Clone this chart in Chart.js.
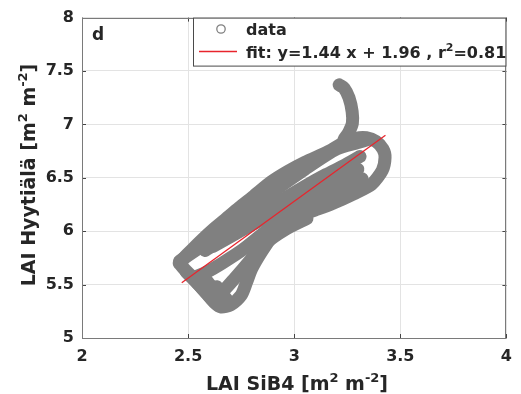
<!DOCTYPE html>
<html><head><meta charset="utf-8">
<script src="https://cdn.jsdelivr.net/npm/chart.js@4.4.1/dist/chart.umd.min.js"></script>
<style>html,body{margin:0;padding:0;background:#fff;}#wrap{width:521px;height:394px;}</style>
</head><body><div id="wrap"><canvas id="c" width="521" height="394"></canvas></div>
<script>
// ---- data ----
const xTicks = [2, 2.5, 3, 3.5, 4];
const yTicks = [5, 5.5, 6, 6.5, 7, 7.5, 8];
const xTitle = [["LAI SiB4 [m", 0], ["2", 1], [" m", 0], ["-2", 1], ["]", 0]];
const yTitle = [["LAI Hyytiälä [m", 0], ["2", 1], [" m", 0], ["-2", 1], ["]", 0]];
const panelLabel = "d";
const legendData = "data";
const legendFit = [["fit: y=1.44 x + 1.96 , r", 0], ["2", 1], ["=0.81", 0]];
const fitSlope = 1.44;
const fitIntercept = 1.96;
const fitX = [2.47, 3.43];

// trajectory strands of the data cloud (x = LAI SiB4, y = LAI Hyytiälä)
const outerLoop = [[2.458,5.70],[2.50,5.79],[2.56,5.91],[2.62,6.02],[2.68,6.12],[2.74,6.22],[2.81,6.33],[2.89,6.46],[2.97,6.56],[3.05,6.645],[3.16,6.745],[3.235,6.83],[3.29,6.87],[3.34,6.875],[3.385,6.84],[3.418,6.77],[3.428,6.69],[3.415,6.57],[3.365,6.44],[3.28,6.35],[3.18,6.26],[3.10,6.20],[3.03,6.15],[2.95,6.07],[2.90,5.96],[2.85,5.82],[2.80,5.65],[2.775,5.52],[2.75,5.40],[2.70,5.31],[2.655,5.29],[2.625,5.33],[2.59,5.41],[2.55,5.50],[2.51,5.59],[2.475,5.66],[2.458,5.70]];
const hookPath = [[3.212,7.37],[3.235,7.34],[3.258,7.25],[3.273,7.12],[3.274,7.01],[3.258,6.93],[3.235,6.86]];
const passA = [[2.46,5.72],[2.55,5.84],[2.65,5.99],[2.75,6.14],[2.90,6.37],[3.05,6.58],[3.20,6.77],[3.30,6.83],[3.35,6.86]];
const passE = [[2.58,5.82],[2.66,5.92],[2.75,6.05],[2.90,6.24],[3.05,6.42],[3.15,6.53],[3.24,6.62],[3.31,6.70]];
const passB = [[2.62,5.86],[2.70,5.95],[2.80,6.06],[2.90,6.17],[3.05,6.32],[3.20,6.47],[3.30,6.58]];
const passC = [[2.53,5.57],[2.59,5.62],[2.66,5.70],[2.76,5.83],[2.90,6.05],[3.05,6.23],[3.20,6.39],[3.32,6.49]];
const passD = [[2.62,5.37],[2.67,5.45],[2.72,5.56],[2.79,5.72],[2.86,5.88],[2.96,6.02],[3.06,6.12]];
const fillG1 = [[2.49,5.62],[2.55,5.50],[2.60,5.39],[2.64,5.31]];
const fillG2 = [[2.57,5.58],[2.61,5.48],[2.65,5.38],[2.69,5.31]];
const fillG3 = [[2.635,5.48],[2.67,5.39],[2.70,5.32]];

const dataPaths = [outerLoop, hookPath, passA, passE, passB, passC, passD, fillG1, fillG2, fillG3];

// ---- styles ----
const GRAY = '#808080';
const TXT = '#262626';
const RED = 'rgb(232,36,44)';
const FONT = "'DejaVu Sans', sans-serif";

const toXY = arr => arr.map(p => ({x: p[0], y: p[1]}));

const datasets = [{
  label: 'fit',
  data: fitX.map(x => ({x: x, y: fitSlope * x + fitIntercept})),
  showLine: true, borderColor: RED, borderWidth: 1.3,
  pointRadius: 0, order: 0, tension: 0
}];
dataPaths.forEach((p, i) => datasets.push({
  label: 'data' + i, data: toXY(p), showLine: true,
  borderColor: GRAY, borderWidth: 13, borderCapStyle: 'round', borderJoinStyle: 'round',
  tension: 0.25, pointRadius: 0, order: 1
}));

function drawRich(ctx, parts, x, y, size, supSize, align) {
  const f = s => 'bold ' + s + 'px ' + FONT;
  let total = 0;
  const w = parts.map(p => { ctx.font = f(p[1] ? supSize : size); const m = ctx.measureText(p[0]).width; total += m; return m; });
  let cx = align === 'center' ? x - total / 2 : x;
  ctx.textAlign = 'left';
  ctx.textBaseline = 'alphabetic';
  const base = y + size * 0.36;
  parts.forEach((p, i) => {
    ctx.font = f(p[1] ? supSize : size);
    ctx.fillText(p[0], cx, p[1] ? base - size * 0.42 : base);
    cx += w[i];
  });
}

const deco = {
  id: 'deco',
  afterDraw(chart) {
    const ctx = chart.ctx, a = chart.chartArea;
    const xs = chart.scales.x, ys = chart.scales.y;
    ctx.save();
    // inward tick marks
    ctx.strokeStyle = '#444'; ctx.lineWidth = 1;
    ctx.beginPath();
    xTicks.forEach(v => { const px = Math.round(xs.getPixelForValue(v)) + 0.5;
      ctx.moveTo(px, a.bottom); ctx.lineTo(px, a.bottom - 4);
      ctx.moveTo(px, a.top); ctx.lineTo(px, a.top + 4); });
    yTicks.forEach(v => { const py = Math.round(ys.getPixelForValue(v)) + 0.5;
      ctx.moveTo(a.left, py); ctx.lineTo(a.left + 4, py);
      ctx.moveTo(a.right, py); ctx.lineTo(a.right - 4, py); });
    ctx.stroke();
    // box
    ctx.strokeStyle = '#7a7a7a'; ctx.lineWidth = 1;
    ctx.strokeRect(Math.round(a.left) + 0.5, Math.round(a.top) + 0.5, Math.round(a.right - a.left) - 1, Math.round(a.bottom - a.top));
    // legend box
    const lx = 193.5, ly = a.top + 0.5, lw = a.right - 193 - 1, lh = 48;
    ctx.fillStyle = '#fff'; ctx.fillRect(lx, ly, lw, lh);
    ctx.strokeStyle = '#4a4a4a'; ctx.strokeRect(lx, ly, lw, lh);
    ctx.strokeStyle = GRAY; ctx.lineWidth = 1.3;
    ctx.beginPath(); ctx.arc(221, 29, 4.2, 0, Math.PI * 2); ctx.stroke();
    ctx.beginPath();
    ctx.strokeStyle = RED; ctx.lineWidth = 1.6;
    ctx.moveTo(199, 51.5); ctx.lineTo(237, 51.5); ctx.stroke();
    ctx.fillStyle = TXT;
    drawRich(ctx, [[legendData, 0]], 246, 29.5, 16, 11, 'left');
    drawRich(ctx, legendFit, 246, 52, 16, 11, 'left');
    // panel label
    drawRich(ctx, [[panelLabel, 0]], 92, 33.5, 17, 11, 'left');
    // axis titles
    drawRich(ctx, xTitle, 297, 383, 19, 13, 'center');
    ctx.translate(28, 175); ctx.rotate(-Math.PI / 2);
    drawRich(ctx, yTitle, 0, 0, 19, 13, 'center');
    ctx.restore();
  }
};

new Chart(document.getElementById('c'), {
  type: 'scatter',
  data: {datasets: datasets},
  options: {
    responsive: false, animation: false, devicePixelRatio: 1,
    layout: {padding: {top: 17, right: 10, left: 0, bottom: 0}},
    plugins: {legend: {display: false}, tooltip: {enabled: false}},
    scales: {
      x: {
        type: 'linear', min: 2, max: 4,
        afterBuildTicks: s => { s.ticks = xTicks.map(v => ({value: v})); },
        afterFit: s => { s.height = 56; },
        grid: {color: '#e3e3e3', drawTicks: false},
        border: {display: false},
        ticks: {padding: 9, color: TXT, font: {family: FONT, size: 16, weight: 'bold'}, callback: v => String(v), maxRotation: 0}
      },
      y: {
        type: 'linear', min: 5, max: 8,
        afterBuildTicks: s => { s.ticks = yTicks.map(v => ({value: v})); },
        afterFit: s => { s.width = 82; },
        grid: {color: '#e3e3e3', drawTicks: false},
        border: {display: false},
        ticks: {padding: 8, color: TXT, font: {family: FONT, size: 16, weight: 'bold'}, callback: v => String(v)}
      }
    }
  },
  plugins: [deco]
});
</script></body></html>
